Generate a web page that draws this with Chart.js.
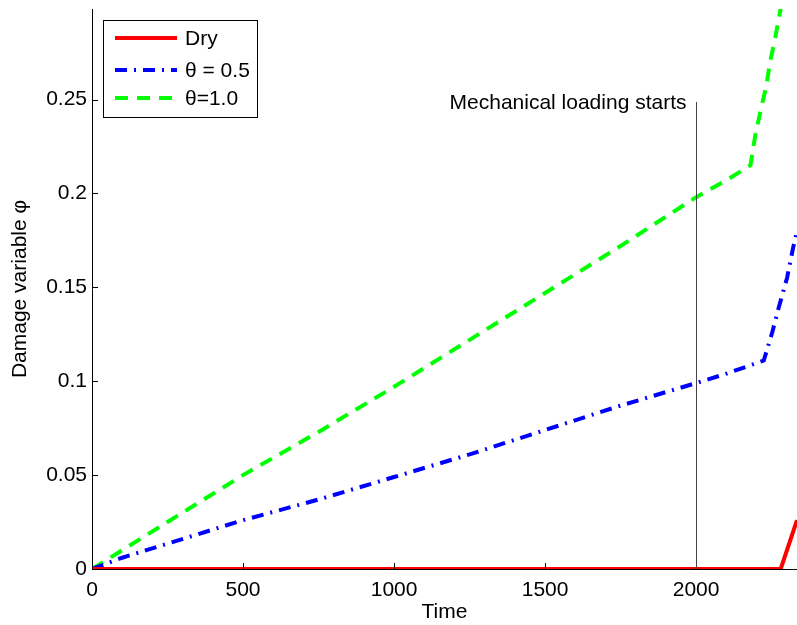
<!DOCTYPE html>
<html>
<head>
<meta charset="utf-8">
<script src="https://cdn.jsdelivr.net/npm/chart.js@4/dist/chart.umd.min.js"></script>
<style>
html,body{margin:0;padding:0;background:#fff;}
#wrap{width:797px;height:625px;position:relative;}
</style>
</head>
<body>
<div id="wrap"><canvas id="c" width="797" height="625"></canvas></div>
<script>
// ---- data ----
const dryX = [0, 2280, 2334];
const dryY = [0, 0, 0.026];
const halfX = [0, 100, 250, 500, 750, 1000, 1250, 1500, 1750, 2000, 2100, 2224, 2252, 2274, 2301, 2321, 2334];
const halfY = [0, 0.006, 0.0135, 0.026, 0.037, 0.049, 0.061, 0.074, 0.087, 0.099, 0.104, 0.111, 0.126, 0.1395, 0.155, 0.171, 0.180];
const oneX = [0, 100, 250, 500, 750, 1000, 1250, 1500, 1750, 2000, 2100, 2180, 2196, 2212, 2232, 2245, 2262, 2280];
const oneY = [0, 0.010, 0.025, 0.050, 0.073, 0.097, 0.122, 0.147, 0.172, 0.198, 0.207, 0.215, 0.231, 0.243, 0.257, 0.270, 0.283, 0.2985];
const seriesLabels = ['Dry', 'θ = 0.5', 'θ=1.0'];
const xTicks = [0, 500, 1000, 1500, 2000];
const yTicks = [0, 0.05, 0.1, 0.15, 0.2, 0.25];
const yTickLabels = ['0', '0.05', '0.1', '0.15', '0.2', '0.25'];
const markerX = 2000;
const markerTop = 0.2487;
const markerText = 'Mechanical loading starts';

const FONT = '"Liberation Sans", Arial, Helvetica, sans-serif';
const FS = 21;
const pts = (xs, ys) => xs.map((x, i) => ({x: x, y: ys[i]}));

const innerTicks = {
  id: 'innerTicks',
  afterDraw(chart) {
    const ctx = chart.ctx, xs = chart.scales.x, ys = chart.scales.y, a = chart.chartArea;
    ctx.save();
    ctx.strokeStyle = '#000'; ctx.lineWidth = 1;
    xTicks.forEach(v => {
      const p = Math.round(xs.getPixelForValue(v)) + 0.5;
      ctx.beginPath(); ctx.moveTo(p, a.bottom); ctx.lineTo(p, a.bottom - 6); ctx.stroke();
    });
    yTicks.forEach(v => {
      const p = Math.round(ys.getPixelForValue(v)) + 0.5;
      ctx.beginPath(); ctx.moveTo(a.left, p); ctx.lineTo(a.left + 6, p); ctx.stroke();
    });
    // marker line
    const mx = Math.round(xs.getPixelForValue(markerX)) + 0.5;
    ctx.strokeStyle = '#444';
    ctx.beginPath(); ctx.moveTo(mx, ys.getPixelForValue(0)); ctx.lineTo(mx, ys.getPixelForValue(markerTop)); ctx.stroke();
    ctx.fillStyle = '#000';
    ctx.font = FS + 'px ' + FONT;
    ctx.textAlign = 'right'; ctx.textBaseline = 'middle';
    ctx.fillText(markerText, mx - 10, ys.getPixelForValue(markerTop) + 1);
    // legend
    const lx = 103.5, ly = 20.5, lw = 154, lh = 97;
    ctx.fillStyle = '#fff';
    ctx.fillRect(lx, ly, lw, lh);
    ctx.strokeStyle = '#000'; ctx.lineWidth = 1;
    ctx.strokeRect(lx, ly, lw, lh);
    const rows = [38, 70, 98];
    chart.data.datasets.forEach((ds, i) => {
      ctx.save();
      ctx.strokeStyle = ds.borderColor; ctx.lineWidth = ds.borderWidth;
      ctx.setLineDash(ds.borderDash || []);
      ctx.beginPath(); ctx.moveTo(115, rows[i]); ctx.lineTo(177, rows[i]); ctx.stroke();
      ctx.restore();
      ctx.fillStyle = '#000';
      ctx.textAlign = 'left'; ctx.textBaseline = 'middle';
      ctx.fillText(ds.label, 185, rows[i] + 1);
    });
    ctx.restore();
  }
};

new Chart(document.getElementById('c'), {
  type: 'scatter',
  data: {
    datasets: [
      {label: seriesLabels[0], data: pts(dryX, dryY), showLine: true, borderColor: '#ff0000', borderWidth: 4, pointRadius: 0, borderDash: [], fill: false},
      {label: seriesLabels[1], data: pts(halfX, halfY), showLine: true, borderColor: '#0000ff', borderWidth: 4, pointRadius: 0, borderDash: [12, 7, 2, 7], fill: false},
      {label: seriesLabels[2], data: pts(oneX, oneY), showLine: true, borderColor: '#00ff00', borderWidth: 4, pointRadius: 0, borderDash: [13, 9], fill: false}
    ]
  },
  options: {
    responsive: false,
    animation: false,
    layout: {padding: {top: 9, right: 0, left: 0, bottom: 0}},
    plugins: {legend: {display: false}, tooltip: {enabled: false}},
    scales: {
      x: {
        type: 'linear', min: 0, max: 2334,
        afterFit(s) { s.height = 56; s.paddingLeft = 0; s.paddingRight = 0; },
        afterBuildTicks(s) { s.ticks = xTicks.map(v => ({value: v})); },
        grid: {drawOnChartArea: false, drawTicks: false},
        border: {color: '#000', width: 1},
        ticks: {color: '#000', font: {family: FONT, size: FS}, padding: 9, maxRotation: 0, callback: v => String(v)},
        title: {display: true, text: 'Time', color: '#000', font: {family: FONT, size: FS}, padding: {top: 0, bottom: 0}}
      },
      y: {
        type: 'linear', min: 0, max: 0.2982,
        afterFit(s) { s.width = 92; s.paddingTop = 0; s.paddingBottom = 0; },
        afterBuildTicks(s) { s.ticks = yTicks.map(v => ({value: v})); },
        grid: {drawOnChartArea: false, drawTicks: false},
        border: {color: '#000', width: 1},
        ticks: {color: '#000', font: {family: FONT, size: FS}, padding: 5, callback: (v) => yTickLabels[yTicks.indexOf(v)] ?? ''},
        title: {display: true, text: 'Damage variable φ', color: '#000', font: {family: FONT, size: FS}, padding: {top: 8, bottom: 0}}
      }
    }
  },
  plugins: [innerTicks]
});
</script>
</body>
</html>
